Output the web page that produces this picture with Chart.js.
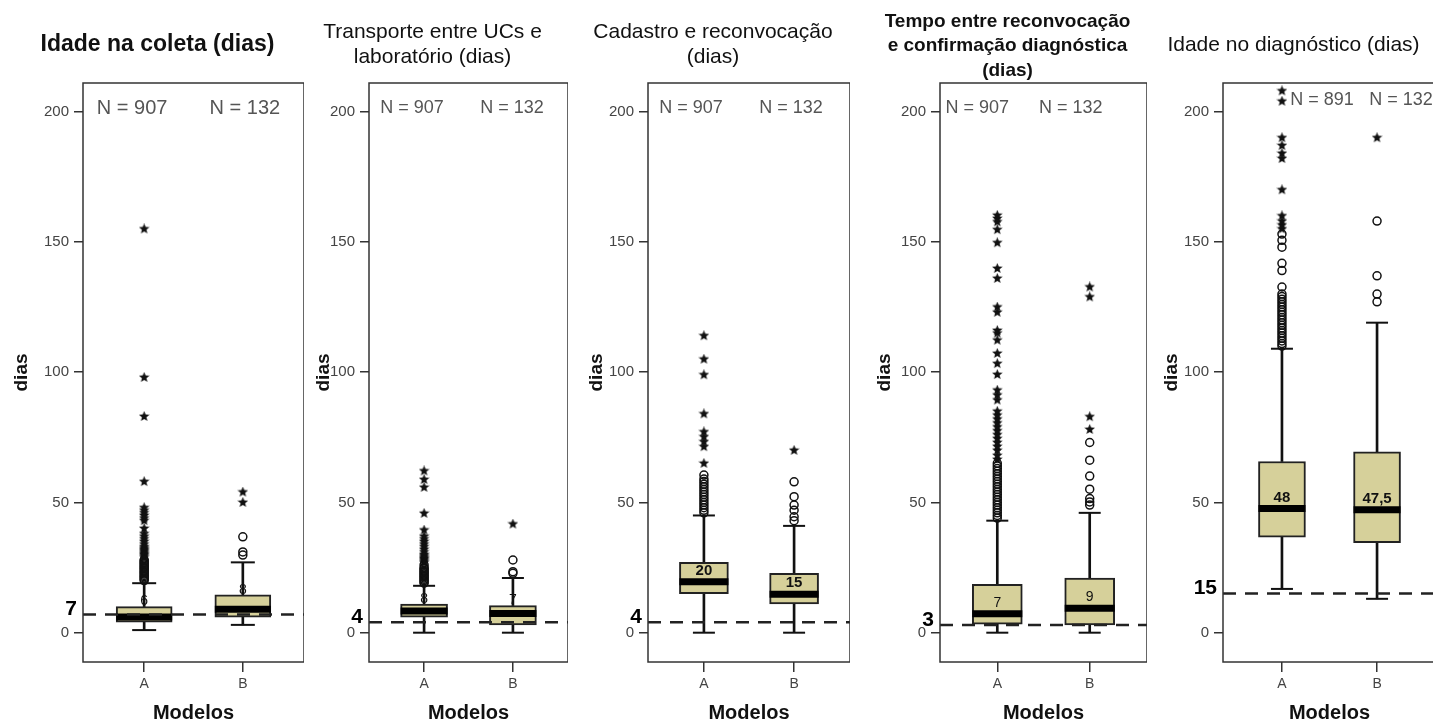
<!DOCTYPE html>
<html>
<head>
<meta charset="utf-8">
<script src="https://cdn.jsdelivr.net/npm/chart.js@4.4.1/dist/chart.umd.min.js"></script>
<style>
  html, body { margin: 0; padding: 0; background: #fff; overflow: hidden; }
  body { width: 1433px; height: 724px; position: relative; }
  canvas { position: absolute; top: 0; }
</style>
</head>
<body>
<canvas id="p1"></canvas>
<canvas id="p2"></canvas>
<canvas id="p3"></canvas>
<canvas id="p4"></canvas>
<canvas id="p5"></canvas>
<script>
const groups = ['A', 'B'];
const yTicks = [0, 50, 100, 150, 200];

// Idade na coleta
const coletaTitle = ['Idade na coleta (dias)'];
const coletaN = [907, 132];
const coletaLow = [1, 3];
const coletaQ1 = [4, 6];
const coletaMedian = [6, 9];
const coletaQ3 = [10, 14.5];
const coletaHigh = [19, 27];
const coletaMedianText = ['6', '8'];
const coletaRef = 7;
const coletaCirclesA = [20, 20.5, 21, 21.5, 22, 22.5, 23, 23.5, 24, 24.5, 25, 25.5, 26, 26.5, 27, 27.5, 28];
const coletaStarsA = [29, 29.5, 30, 30.5, 31, 31.5, 32, 32.5, 33, 34, 35, 36, 37, 38, 40, 43, 44, 45, 46, 47, 48, 58, 83, 98, 155];
const coletaCirclesB = [29.8, 31, 36.8];
const coletaStarsB = [50, 54];

// Transporte entre UCs e laboratório
const transpTitle = ['Transporte entre UCs e', 'laboratório (dias)'];
const transpN = [907, 132];
const transpLow = [0, 0];
const transpQ1 = [6, 3];
const transpMedian = [8.3, 7.4];
const transpQ3 = [11, 10.4];
const transpHigh = [18, 21];
const transpMedianText = ['8', '7'];
const transpRef = 4;
const transpCirclesA = [19, 19.5, 20, 20.5, 21, 21.5, 22, 22.5, 23, 23.5, 24, 24.5, 25, 26];
const transpStarsA = [27, 27.5, 28, 28.5, 29, 29.5, 30, 31, 32, 33, 34, 35, 36, 37, 39.4, 45.8, 55.8, 58.8, 62.1];
const transpCirclesB = [22.8, 23.4, 27.9];
const transpStarsB = [41.7];

// Cadastro e reconvocação
const cadTitle = ['Cadastro e reconvocação', '(dias)'];
const cadN = [907, 132];
const cadLow = [0, 0];
const cadQ1 = [15, 11];
const cadMedian = [19.6, 14.8];
const cadQ3 = [27, 22.8];
const cadHigh = [45, 41];
const cadMedianText = ['20', '15'];
const cadRef = 4;
const cadCirclesA = [46, 47, 48, 49, 50, 51, 52, 53, 54, 55, 56, 57, 58, 59, 60.5];
const cadStarsA = [65, 71.4, 73.3, 75.2, 77.1, 84, 99, 105, 114];
const cadCirclesB = [43, 44.5, 47, 49, 52.2, 57.9];
const cadStarsB = [70];

// Tempo entre reconvocação e confirmação diagnóstica
const tempoTitle = ['Tempo entre reconvocação', 'e confirmação diagnóstica', '(dias)'];
const tempoN = [907, 132];
const tempoLow = [0, 0];
const tempoQ1 = [3.3, 3];
const tempoMedian = [7.3, 9.4];
const tempoQ3 = [18.6, 21];
const tempoHigh = [43, 46];
const tempoMedianText = ['7', '9'];
const tempoRef = 3;
const tempoCirclesA = [44, 45, 46, 47, 48, 49, 50, 51, 52, 53, 54, 55, 56, 57, 58, 59, 60, 61, 62, 63, 64, 65];
const tempoStarsA = [66.5, 68, 70, 71.5, 73, 74.5, 76, 77.5, 79, 80.5, 82, 83.5, 85, 89.3, 91.2, 93.1, 99.1, 103.3,
  107.2, 112.3, 115, 116, 123, 125, 136, 139.8, 149.7, 154.7, 157.7, 159, 160.2];
const tempoCirclesB = [49, 50.2, 51.5, 55.1, 60.1, 66.2, 73];
const tempoStarsB = [78, 82.9, 128.9, 132.7];

// Idade no diagnóstico
const diagTitle = ['Idade no diagnóstico (dias)'];
const diagN = [891, 132];
const diagLow = [16.8, 13];
const diagQ1 = [36.7, 34.6];
const diagMedian = [47.7, 47.2];
const diagQ3 = [65.7, 69.4];
const diagHigh = [109, 119];
const diagMedianText = ['48', '47,5'];
const diagRef = 15;
const diagCirclesA = [110, 111, 112, 113, 114, 115, 116, 117, 118, 119, 120, 121, 122, 123, 124, 125, 126, 127, 128,
  129, 130, 132.7, 139, 141.8, 148, 150.6, 153];
const diagStarsA = [155, 156.5, 158, 160, 170, 182, 184, 187, 190, 204, 208];
const diagCirclesB = [127, 130, 137, 158];
const diagStarsB = [190];

const FONT = "'Liberation Sans', Arial, sans-serif";
Chart.defaults.font.family = FONT;

const BOX_FILL = '#d6d09a';
const X_MIN = 0.38, X_MAX = 2.62;
const AXIS_W = 72;

function makeStar(size) {
    const c = document.createElement('canvas');
    c.width = c.height = size;
    const g = c.getContext('2d');
    g.fillStyle = '#111';
    g.beginPath();
    for (let i = 0; i < 10; i++) {
        const r = i % 2 ? size * 0.22 : size * 0.5;
        const a = -Math.PI / 2 + i * Math.PI / 5;
        g.lineTo(size / 2 + r * Math.cos(a), size / 2 + r * Math.sin(a));
    }
    g.closePath();
    g.fill();
    return c;
}
const starImg = makeStar(11);

function textPlugin(p, lay) {
    return {
        id: 'panelText',
        afterDatasetsDraw(chart) {
            const { ctx, chartArea: a, scales: { x, y } } = chart;
            ctx.save();
            // frame round the plot
            ctx.strokeStyle = '#333';
            ctx.lineWidth = 1.5;
            ctx.strokeRect(a.left, a.top, a.right - a.left, a.bottom - a.top);

            ctx.textAlign = 'center';
            ctx.textBaseline = 'middle';
            ctx.fillStyle = '#555';
            ctx.font = lay.nSize + 'px ' + FONT;
            p.n.forEach((n, i) => {
                ctx.fillText('N = ' + n, x.getPixelForValue(i + 1) + lay.nDx[i], a.top + lay.nY);
            });

            // median values: inside the box when there is room, else just over it
            ctx.fillStyle = '#111';
            ctx.font = (lay.medBold ? 'bold ' : '') + lay.medSize + 'px ' + FONT;
            p.median.forEach((m, i) => {
                const mp = y.getPixelForValue(m);
                const qp = y.getPixelForValue(p.q3[i]);
                const ty = mp - qp >= 16 ? mp - 11 : qp - 5;
                ctx.fillText(p.medianText[i], x.getPixelForValue(i + 1), ty);
            });

            // reference value
            ctx.fillStyle = '#000';
            ctx.font = 'bold 21px ' + FONT;
            ctx.textAlign = 'right';
            ctx.fillText(String(p.ref), a.left - 6, y.getPixelForValue(p.ref) - 5);
            ctx.restore();
        }
    };
}

function buildPanel(id, p, lay) {
    const canvas = document.getElementById(id);
    canvas.width = lay.right - lay.left + AXIS_W;
    canvas.height = 724;
    canvas.style.left = (lay.left - AXIS_W) + 'px';

    const xs = [1, 2];
    const boxes = xs.map((x, i) => ({ x, y: [p.q1[i], p.q3[i]] }));
    const whiskers = xs.flatMap((x, i) => [{ x, y: [p.low[i], p.q1[i]] }, { x, y: [p.q3[i], p.high[i]] }]);
    const caps = xs.flatMap((x, i) => [{ x, y: p.low[i] }, { x, y: p.high[i] }]);
    const medians = xs.map((x, i) => ({ x, y: p.median[i] }));
    const circles = p.circles.flatMap((vals, i) => vals.map(v => ({ x: xs[i], y: v })));
    const stars = p.stars.flatMap((vals, i) => vals.map(v => ({ x: xs[i], y: v })));
    const refLine = [{ x: X_MIN, y: p.ref }, { x: X_MAX, y: p.ref }];

    const titleH = p.title.length * lay.titleLh;

    new Chart(canvas, {
        type: 'scatter',
        data: {
            datasets: [
                {
                    type: 'line', data: refLine, order: 0,
                    borderColor: '#222', borderWidth: 2.5, borderDash: [13, 9],
                    pointRadius: 0, fill: false
                },
                {
                    type: 'scatter', data: medians, order: 1,
                    pointStyle: 'line', pointRadius: lay.barW / 2,
                    borderColor: '#000', borderWidth: 7
                },
                {
                    type: 'scatter', data: caps, order: 2,
                    pointStyle: 'line', pointRadius: lay.capR,
                    borderColor: '#111', borderWidth: 2
                },
                {
                    type: 'scatter', data: stars, order: 3,
                    pointStyle: starImg, pointRadius: 5
                },
                {
                    type: 'scatter', data: circles, order: 3,
                    pointStyle: 'circle', pointRadius: 4,
                    backgroundColor: 'rgba(255,255,255,0)', borderColor: '#111', borderWidth: 1.5
                },
                {
                    type: 'bar', data: boxes, order: 4,
                    barThickness: lay.barW, backgroundColor: BOX_FILL,
                    borderColor: '#222', borderWidth: 2, borderSkipped: false
                },
                {
                    type: 'bar', data: whiskers, order: 5,
                    barThickness: 2, backgroundColor: '#111', borderWidth: 0
                }
            ]
        },
        options: {
            responsive: false,
            animation: false,
            events: [],
            layout: { padding: 0, autoPadding: false },
            datasets: { bar: { grouped: false } },
            plugins: {
                legend: { display: false },
                tooltip: { enabled: false },
                title: {
                    display: true,
                    text: p.title,
                    color: '#111',
                    font: { size: lay.titleSize, weight: lay.titleWeight, lineHeight: lay.titleLh + 'px' },
                    padding: { top: lay.titleTop, bottom: 83 - lay.titleTop - titleH }
                }
            },
            scales: {
                x: {
                    type: 'linear', min: X_MIN, max: X_MAX, offset: false,
                    afterBuildTicks: s => { s.ticks = groups.map((g, i) => ({ value: i + 1 })); },
                    afterFit: s => { s.height = 62; s.paddingLeft = 0; s.paddingRight = 0; },
                    ticks: {
                        callback: v => groups[v - 1],
                        color: '#444', font: { size: 14 }, padding: 4,
                        autoSkip: false, maxRotation: 0
                    },
                    grid: { drawOnChartArea: false, offset: false, tickLength: 10, color: '#333', lineWidth: 1.5 },
                    border: { display: false },
                    title: {
                        display: true, text: 'Modelos', color: '#111',
                        font: { size: 20, weight: 'bold', lineHeight: '20px' },
                        padding: { top: 0, bottom: 1 }
                    }
                },
                y: {
                    type: 'linear', min: -11.25, max: 211,
                    afterBuildTicks: s => { s.ticks = yTicks.map(v => ({ value: v })); },
                    afterFit: s => { s.width = AXIS_W; s.paddingTop = 0; s.paddingBottom = 0; },
                    ticks: { color: '#444', font: { size: 15 }, padding: 5 },
                    grid: { drawOnChartArea: false, tickLength: 9, color: '#333', lineWidth: 1.5 },
                    border: { display: false },
                    title: {
                        display: true, text: 'dias', color: '#111',
                        font: { size: 19, weight: 'bold', lineHeight: '22px' },
                        padding: { top: lay.diasPad, bottom: 0 }
                    }
                }
            }
        },
        plugins: [textPlugin(p, lay)]
    });
}

buildPanel('p1', {
    title: coletaTitle, n: coletaN, low: coletaLow, q1: coletaQ1, median: coletaMedian, q3: coletaQ3,
    high: coletaHigh, medianText: coletaMedianText, ref: coletaRef,
    circles: [coletaCirclesA, coletaCirclesB], stars: [coletaStarsA, coletaStarsB]
}, {
    left: 83, right: 304, barW: 56, capR: 12, titleSize: 23, titleWeight: 'bold', titleLh: 28, titleTop: 31,
    nSize: 20, nY: 25, nDx: [-12, 2], medSize: 14, medBold: false, diasPad: 0
});

buildPanel('p2', {
    title: transpTitle, n: transpN, low: transpLow, q1: transpQ1, median: transpMedian, q3: transpQ3,
    high: transpHigh, medianText: transpMedianText, ref: transpRef,
    circles: [transpCirclesA, transpCirclesB], stars: [transpStarsA, transpStarsB]
}, {
    left: 369, right: 568, barW: 47, capR: 11, titleSize: 21, titleWeight: 'normal', titleLh: 25, titleTop: 20,
    nSize: 18, nY: 25, nDx: [-12, -1], medSize: 14, medBold: false, diasPad: 16
});

buildPanel('p3', {
    title: cadTitle, n: cadN, low: cadLow, q1: cadQ1, median: cadMedian, q3: cadQ3,
    high: cadHigh, medianText: cadMedianText, ref: cadRef,
    circles: [cadCirclesA, cadCirclesB], stars: [cadStarsA, cadStarsB]
}, {
    left: 648, right: 850, barW: 49, capR: 11, titleSize: 21, titleWeight: 'normal', titleLh: 25, titleTop: 20,
    nSize: 18, nY: 25, nDx: [-13, -3], medSize: 15, medBold: true, diasPad: 10
});

buildPanel('p4', {
    title: tempoTitle, n: tempoN, low: tempoLow, q1: tempoQ1, median: tempoMedian, q3: tempoQ3,
    high: tempoHigh, medianText: tempoMedianText, ref: tempoRef,
    circles: [tempoCirclesA, tempoCirclesB], stars: [tempoStarsA, tempoStarsB]
}, {
    left: 940, right: 1147, barW: 50, capR: 11, titleSize: 19, titleWeight: 'bold', titleLh: 24.5, titleTop: 9.5,
    nSize: 18, nY: 25, nDx: [-20, -19], medSize: 14, medBold: false, diasPad: 6
});

buildPanel('p5', {
    title: diagTitle, n: diagN, low: diagLow, q1: diagQ1, median: diagMedian, q3: diagQ3,
    high: diagHigh, medianText: diagMedianText, ref: diagRef,
    circles: [diagCirclesA, diagCirclesB], stars: [diagStarsA, diagStarsB]
}, {
    left: 1223, right: 1436, barW: 47, capR: 11, titleSize: 21, titleWeight: 'normal', titleLh: 25, titleTop: 32.5,
    nSize: 18, nY: 17, nDx: [40, 24], medSize: 15, medBold: true, diasPad: 10
});
</script>
</body>
</html>
